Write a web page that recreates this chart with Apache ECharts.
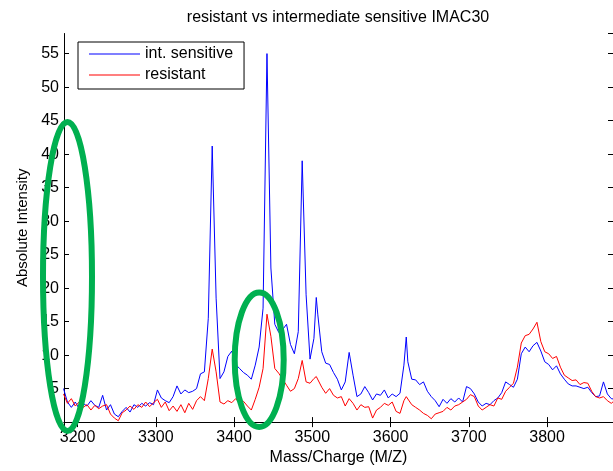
<!DOCTYPE html>
<html><head><meta charset="utf-8">
<script src="https://cdn.jsdelivr.net/npm/echarts@6/dist/echarts.min.js"></script>
<style>html,body{margin:0;padding:0;background:#fff}#c{width:613px;height:471px}</style>
</head><body><div id="c"></div>
<script>
const titleText = 'resistant vs intermediate sensitive IMAC30';
const xName = 'Mass/Charge (M/Z)';
const yName = 'Absolute Intensity';
const seriesNames = ['int. sensitive', 'resistant'];

const mz = [
 3182,3187,3192,3197,3202,3207,3212,3217,3222,3227,
 3232,3237,3242,3247,3252,3257,3262,3267,3272,3277,
 3282,3287,3292,3297,3302,3307,3312,3317,3322,3327,
 3332,3337,3342,3347,3352,3357,3362,3367,3372,3377,
 3382,3387,3392,3397,3402,3407,3412,3417,3422,3427,
 3432,3437,3442,3447,3452,3457,3462,3467,3472,3477,
 3482,3487,3492,3497,3502,3505,3507,3512,3517,3522,
 3527,3532,3537,3542,3547,3552,3557,3562,3567,3572,
 3577,3582,3587,3592,3597,3602,3607,3612,3617,3620,
 3622,3627,3632,3637,3642,3647,3652,3657,3662,3667,
 3672,3677,3682,3687,3692,3697,3702,3707,3712,3717,
 3722,3727,3732,3737,3742,3747,3752,3757,3762,3767,
 3772,3777,3782,3787,3792,3797,3802,3807,3812,3817,
 3822,3827,3832,3837,3842,3847,3852,3857,3862,3867,
 3872,3877,3882,3887
];
const sensitive = [
 5.0,3.0,2.2,3.0,2.0,2.8,2.4,3.2,2.5,2.2,
 4.0,1.8,2.6,1.2,0.8,1.6,2.2,1.5,2.6,2.2,
 2.8,2.4,2.9,2.6,4.8,3.6,3.2,2.9,3.8,5.4,
 4.2,4.8,4.4,4.6,5.0,7.2,7.5,15.5,41.2,18.5,
 6.5,7.5,9.8,10.6,8.6,8.0,7.4,7.0,6.4,8.5,
 11.2,17.0,55.0,23.0,14.6,13.4,13.8,14.6,11.6,10.2,
 13.5,39.0,19.0,9.4,12.5,18.6,16.0,10.5,8.8,8.6,
 7.4,6.4,4.8,6.0,10.4,7.0,3.8,4.2,5.3,4.4,
 3.3,4.2,4.0,4.8,3.6,4.2,3.8,4.3,8.5,12.7,
 9.0,6.4,6.3,5.6,6.0,4.6,3.8,3.2,2.3,3.4,
 2.8,3.5,3.0,3.6,3.0,5.3,5.0,4.2,3.0,2.4,
 2.8,2.6,3.2,3.6,4.4,6.0,5.6,5.2,6.4,10.2,
 11.2,10.5,11.4,11.9,10.6,9.0,8.6,7.8,8.4,7.2,
 6.4,5.7,5.4,5.4,5.2,5.0,5.2,4.4,3.8,3.9,
 6.0,4.2,3.5,3.4
];
const resistant = [
 4.2,2.8,3.5,2.4,3.0,2.2,2.6,1.8,2.5,2.0,
 2.4,2.6,1.2,0.6,0.2,1.4,1.8,2.4,1.9,2.6,
 2.2,3.0,2.3,2.9,3.4,2.2,3.0,1.7,2.4,1.6,
 2.6,1.4,2.8,1.9,3.2,3.8,3.2,6.5,10.9,7.5,
 3.0,2.7,3.2,2.9,3.5,2.8,3.1,2.4,1.8,3.4,
 5.2,8.0,16.1,12.8,8.0,7.3,6.4,5.5,4.6,5.0,
 6.5,9.2,6.0,5.8,6.5,6.8,6.7,5.2,4.3,5.0,
 4.0,3.6,3.8,2.4,3.5,2.8,1.8,2.6,2.2,2.3,
 0.6,1.8,2.2,2.8,2.5,3.0,1.6,1.3,3.2,3.8,
 3.6,2.6,2.2,1.8,1.3,1.0,0.5,1.2,1.4,1.6,
 2.2,1.8,2.4,2.6,3.0,3.4,4.1,3.8,2.4,1.8,
 2.2,2.6,2.4,3.6,3.4,4.6,5.2,5.8,8.2,11.8,
 12.9,13.1,13.9,14.9,12.0,10.5,10.2,9.5,9.8,8.2,
 7.0,6.6,6.2,6.3,5.6,5.9,5.8,4.6,3.8,3.6,
 3.8,3.2,2.8,3.3
];

const font = '"Liberation Sans", Arial, Helvetica, sans-serif';
const xMin = 3182.6, xMax = 3884.2, yMin = 0, yMax = 58;

const pairs = (ys) => mz.map((m, i) => [m, ys[i]]);
const boxAxisLine = { show: true, lineStyle: { color: '#000', width: 1 } };
const boxTick = { show: true, inside: true, length: 5, lineStyle: { color: '#000', width: 1 } };

const chart = echarts.init(document.getElementById('c'), null, { renderer: 'canvas' });
chart.setOption({
  animation: false,
  backgroundColor: '#fff',
  grid: { left: 64, right: -1, top: 33.5, bottom: 45.5, containLabel: false },
  legend: {
    left: 78, top: 42, orient: 'vertical',
    backgroundColor: '#fff', borderColor: '#000', borderWidth: 1, borderRadius: 0,
    padding: [4, 11, 6, 11], itemGap: 5, itemWidth: 51, itemHeight: 1, icon: 'rect',
    textStyle: { fontFamily: font, fontSize: 16, color: '#000' },
    data: seriesNames
  },
  xAxis: [
    {
      type: 'value', min: xMin, max: xMax, position: 'bottom',
      axisLine: boxAxisLine, axisTick: boxTick,
      axisLabel: { color: '#000', fontFamily: font, fontSize: 16, margin: 7,
        showMinLabel: false, showMaxLabel: false, formatter: v => String(v) },
      splitLine: { show: false },
      name: xName, nameLocation: 'middle', nameGap: 26,
      nameTextStyle: { color: '#000', fontFamily: font, fontSize: 16 }
    },
    {
      type: 'value', min: xMin, max: xMax, position: 'top',
      axisLine: boxAxisLine, axisTick: boxTick,
      axisLabel: { show: false }, splitLine: { show: false }
    }
  ],
  yAxis: [
    {
      type: 'value', min: yMin, max: yMax, interval: 5, position: 'left',
      axisLine: boxAxisLine, axisTick: boxTick,
      axisLabel: { color: '#000', fontFamily: font, fontSize: 16, margin: 5,
        showMinLabel: false, showMaxLabel: false },
      splitLine: { show: false },
      name: yName, nameLocation: 'middle', nameGap: 30, nameRotate: 90,
      nameTextStyle: { color: '#000', fontFamily: font, fontSize: 15 }
    },
    {
      type: 'value', min: yMin, max: yMax, interval: 5, position: 'right',
      axisLine: boxAxisLine, axisTick: boxTick,
      axisLabel: { show: false }, splitLine: { show: false }
    }
  ],
  series: [
    { name: seriesNames[0], type: 'line', data: pairs(sensitive), symbol: 'none',
      lineStyle: { color: '#0000ff', width: 1 }, itemStyle: { color: '#0000ff' }, z: 2 },
    { name: seriesNames[1], type: 'line', data: pairs(resistant), symbol: 'none',
      lineStyle: { color: '#ff0000', width: 1 }, itemStyle: { color: '#ff0000' }, z: 3 }
  ],
  graphic: [
    { type: 'text', x: 338, y: 18, z: 50,
      style: { text: titleText, fill: '#000', fontFamily: font, fontSize: 16, align: 'center', verticalAlign: 'middle' } },
    { type: 'ellipse', z: 100, shape: { cx: 67.5, cy: 276.5, rx: 24.5, ry: 154.5 },
      style: { fill: 'none', stroke: '#00b050', lineWidth: 6 } },
    { type: 'ellipse', z: 100, shape: { cx: 259.2, cy: 359.7, rx: 24.5, ry: 67.3 },
      style: { fill: 'none', stroke: '#00b050', lineWidth: 6 } }
  ]
});
</script></body></html>
